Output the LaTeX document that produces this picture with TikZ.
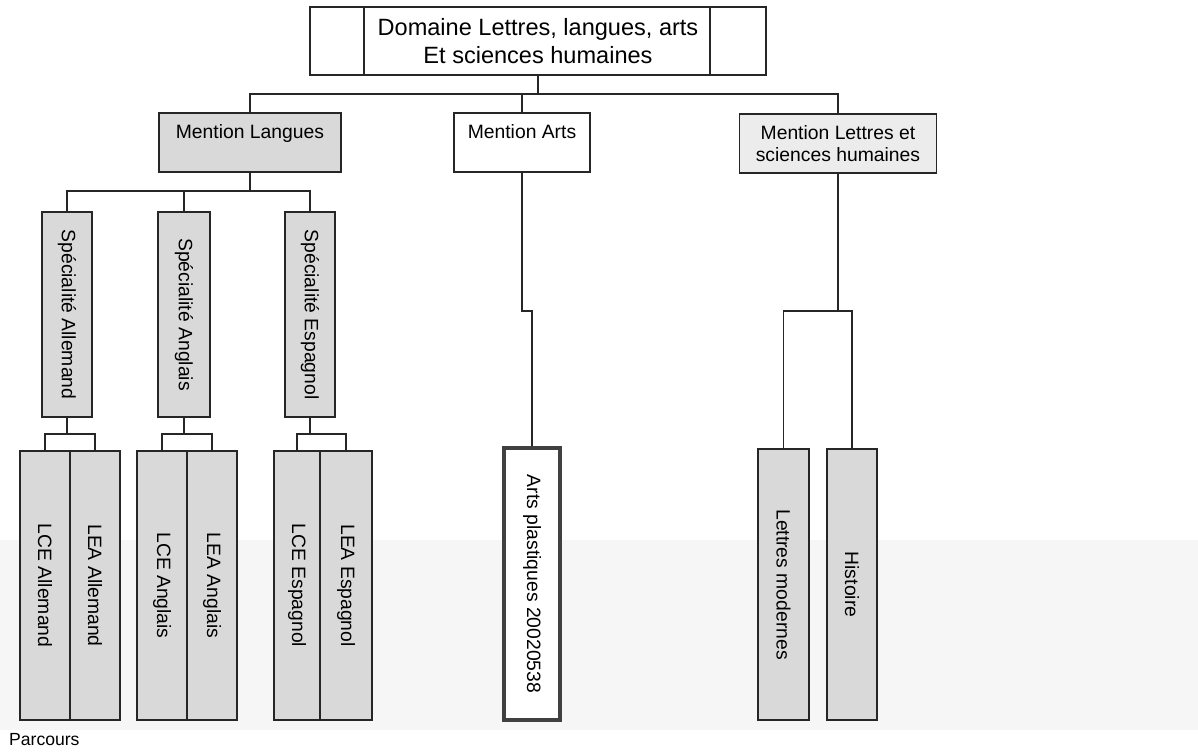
\documentclass[tikz,border=0pt]{standalone}
\usepackage{fontspec}
\setmainfont{Liberation Sans}
\usepackage{tikz}

\tikzset{
  boite/.style={draw=black!85,line width=0.9pt,inner sep=0pt,align=center,font=\fontsize{11}{12.5}\selectfont},
  grise/.style={boite,fill=gray!30},
  lien/.style={draw=black!85,line width=0.9pt},
}

\begin{document}
\begin{tikzpicture}[x=0.02cm,y=-0.02cm]
      \useasboundingbox (0,0) rectangle (1198,755);
      \fill[gray!7] (0,540) rectangle (1198,730);
      % domaine et mentions
      \node[boite,fill=white,minimum width=9.12cm,minimum height=1.36cm,font=\fontsize{13.4}{15.5}\selectfont] (domaine) at (538,41) {Domaine Lettres, langues, arts\\Et sciences humaines};
      \draw[lien] (domaine.north west) ++(55,0) -- ++(0,68);
      \draw[lien] (domaine.north east) ++(-57,0) -- ++(0,68);
      \node[grise,minimum width=3.64cm,minimum height=1.18cm,text height=8pt,text depth=12pt] (langues) at (250,142.5) {Mention Langues};
      \node[boite,fill=white,minimum width=2.72cm,minimum height=1.18cm,text height=8pt,text depth=12pt] (arts) at (522,142.5) {Mention Arts};
      \node[boite,fill=gray!15,minimum width=3.94cm,minimum height=1.18cm] (lettres) at (838,143.5) {Mention Lettres et\\sciences humaines};
      \coordinate (bus) at (538,94);
      \draw[lien] (domaine.south) -- (bus);
      \draw[lien] (langues.north) |- (bus) -| (lettres.north);
      \draw[lien] (arts.north) -- (arts.north |- bus);
      % specialites
      \node[grise,minimum width=1cm,minimum height=4.1cm] (specAl) at (67,314.5) {\rotatebox{-90}{Spécialité Allemand}};
      \node[grise,minimum width=1.04cm,minimum height=4.1cm] (specAn) at (184,314.5) {\rotatebox{-90}{Spécialité Anglais}};
      \node[grise,minimum width=1cm,minimum height=4.1cm] (specEs) at (310,314.5) {\rotatebox{-90}{Spécialité Espagnol}};
      \coordinate (busL) at (250,191);
      \draw[lien] (langues.south) -- (busL);
      \draw[lien] (specAl.north) |- (busL) -| (specEs.north);
      \draw[lien] (specAn.north) -- (specAn.north |- busL);
      % parcours
      \node[grise,minimum width=1cm,minimum height=5.38cm] (lceAl) at (45,585.5) {\rotatebox{-90}{LCE Allemand}};
      \node[grise,minimum width=1cm,minimum height=5.38cm] (leaAl) at (95,585.5) {\rotatebox{-90}{LEA Allemand}};
      \node[grise,minimum width=1cm,minimum height=5.38cm] (lceAn) at (162,585.5) {\rotatebox{-90}{LCE Anglais}};
      \node[grise,minimum width=1cm,minimum height=5.38cm] (leaAn) at (212,585.5) {\rotatebox{-90}{LEA Anglais}};
      \node[grise,minimum width=0.92cm,minimum height=5.38cm] (lceEs) at (297,585.5) {\rotatebox{-90}{LCE Espagnol}};
      \node[grise,minimum width=1.04cm,minimum height=5.38cm] (leaEs) at (346,585.5) {\rotatebox{-90}{LEA Espagnol}};
      \draw[lien] (specAl.south) -- ++(0,16) coordinate (brAl);
      \draw[lien] (lceAl.north) |- (brAl) -| (leaAl.north);
      \draw[lien] (specAn.south) -- ++(0,16) coordinate (brAn);
      \draw[lien] (lceAn.north) |- (brAn) -| (leaAn.north);
      \draw[lien] (specEs.south) -- ++(0,16) coordinate (brEs);
      \draw[lien] (lceEs.north) |- (brEs) -| (leaEs.north);
      % arts et lettres
      \node[boite,fill=white,draw=black!75,line width=1.8pt,minimum width=1.12cm,minimum height=5.44cm] (plastiques) at (532,584) {\rotatebox{-90}{Arts plastiques 20020538}};
      \draw[lien] (arts.south) -- ++(0,138) -| (plastiques.north);
      \node[grise,minimum width=1.02cm,minimum height=5.42cm] (modernes) at (783.5,584.5) {\rotatebox{-90}{Lettres modernes}};
      \node[grise,minimum width=1cm,minimum height=5.42cm] (histoire) at (852,584.5) {\rotatebox{-90}{Histoire}};
      \draw[lien] (lettres.south) -- ++(0,137) coordinate (busH);
      \draw[lien] (modernes.north) |- (busH) -| (histoire.north);
      \node[anchor=west,font=\fontsize{10}{12}\selectfont] (parcours) at (3,740) {Parcours};
\end{tikzpicture}
\end{document}
